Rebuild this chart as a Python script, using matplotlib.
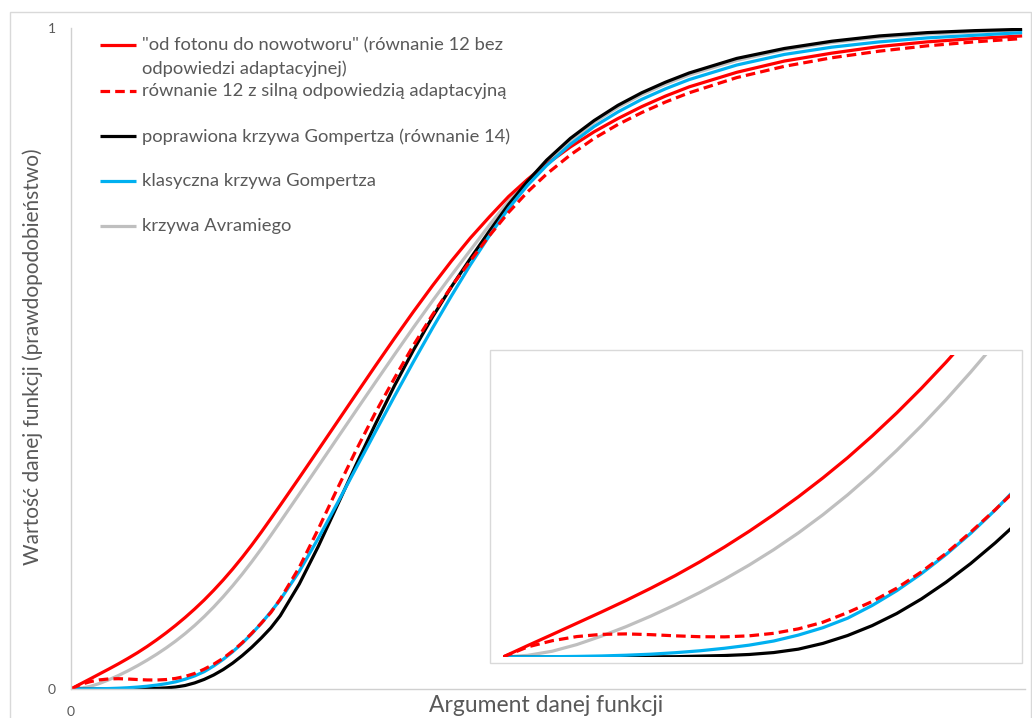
import matplotlib
matplotlib.use("Agg")
import matplotlib.pyplot as plt
from matplotlib.lines import Line2D
from matplotlib.patches import Rectangle

# ---- data ----
x_arg = [0, 1, 2, 3, 4, 5, 6, 7, 8, 9, 10, 11, 12, 13, 14, 15, 16, 17, 18, 19, 20, 21,
         22, 24, 26, 28, 30, 32, 34, 36, 38, 40, 42, 44, 46, 48, 50, 52.5, 55, 57.5, 60, 62.5, 65,
         70, 75, 80, 85, 90, 95, 100]

foton_no_adapt = [0, 0.0077, 0.0152, 0.0228, 0.0304, 0.0382, 0.0464, 0.055, 0.0643, 0.0743, 0.0849,
                  0.0962, 0.1082, 0.121, 0.1346, 0.1493, 0.1649, 0.1815, 0.1991, 0.2177, 0.2372, 0.2575,
                  0.278, 0.3196, 0.3618, 0.4042, 0.4466, 0.4888, 0.5303, 0.5708, 0.610, 0.6475,
                  0.6825, 0.7145, 0.745, 0.771, 0.794, 0.820, 0.843, 0.863, 0.881, 0.897, 0.911,
                  0.933, 0.950, 0.962, 0.972, 0.979, 0.984, 0.988]

foton_adapt = [0, 0.0068, 0.0110, 0.0138, 0.0153, 0.0156, 0.0151, 0.0143, 0.0137, 0.0136, 0.0143,
               0.0160, 0.0190, 0.0235, 0.030, 0.0375, 0.0465, 0.0575, 0.070, 0.0843, 0.0995, 0.1155,
               0.136, 0.184, 0.242, 0.303, 0.362, 0.418, 0.470, 0.520, 0.566, 0.609,
               0.648, 0.686, 0.721, 0.752, 0.779, 0.808, 0.833, 0.854, 0.872, 0.888, 0.902,
               0.925, 0.942, 0.955, 0.965, 0.973, 0.979, 0.984]

gompertz_corr = [0, 0, 0, 0, 0, 0, 0.0001, 0.0002, 0.0006, 0.001, 0.0017,
                 0.003, 0.0053, 0.0092, 0.0145, 0.0212, 0.0294, 0.0392, 0.0505, 0.0631, 0.0771, 0.0923,
                 0.1108, 0.1588, 0.2158, 0.2778, 0.3402, 0.4006, 0.4586, 0.5126, 0.5626, 0.6086,
                 0.6515, 0.693, 0.733, 0.768, 0.800, 0.833, 0.860, 0.883, 0.902, 0.918, 0.932,
                 0.954, 0.969, 0.980, 0.988, 0.993, 0.996, 0.998]

gompertz_classic = [0, 0.0001, 0.0002, 0.0004, 0.0007, 0.0012, 0.0019, 0.0029, 0.0042, 0.0059, 0.0080,
                    0.0108, 0.0148, 0.0198, 0.0262, 0.0348, 0.0448, 0.0563, 0.0692, 0.0835, 0.0993, 0.1165,
                    0.135, 0.178, 0.228, 0.281, 0.335, 0.389, 0.4426, 0.495, 0.5458, 0.5948,
                    0.642, 0.686, 0.727, 0.762, 0.792, 0.824, 0.851, 0.873, 0.892, 0.908, 0.922,
                    0.944, 0.960, 0.971, 0.979, 0.985, 0.989, 0.993]

avrami = [0, 0.0011, 0.0039, 0.0084, 0.0141, 0.0205, 0.0276, 0.0353, 0.0436, 0.0525, 0.0621,
          0.0725, 0.0838, 0.0961, 0.1095, 0.124, 0.1396, 0.1562, 0.1738, 0.1924, 0.2119, 0.2322,
          0.253, 0.2949, 0.3371, 0.3795, 0.4218, 0.4639, 0.5057, 0.5469, 0.587, 0.626,
          0.664, 0.702, 0.738, 0.770, 0.798, 0.829, 0.857, 0.880, 0.899, 0.915, 0.929,
          0.951, 0.967, 0.978, 0.986, 0.991, 0.994, 0.997]

labels = ['"od fotonu do nowotworu" (równanie 12 bez\nodpowiedzi adaptacyjnej)',
          'równanie 12 z silną odpowiedzią adaptacyjną',
          'poprawiona krzywa Gompertza (równanie 14)',
          'klasyczna krzywa Gompertza',
          'krzywa Avramiego']

x_label = 'Argument danej funkcji'
y_label = 'Wartość danej funkcji (prawdopodobieństwo)'

# ---- styling ----
plt.rcParams['font.family'] = ['Lato', 'DejaVu Sans']
W, H = 1032, 718
TXT = '#595959'
AX = '#d0d0d0'

fig = plt.figure(figsize=(W / 100, H / 100), dpi=100)

def fx(px):
    return px / W

def fy(py):
    return 1 - py / H

# outer chart frame
fig.add_artist(Rectangle((fx(10), fy(740)), fx(1031) - fx(10), fy(12) - fy(740),
                         transform=fig.transFigure, fill=False, edgecolor='#d9d9d9', lw=1.0))

series = [
    (foton_no_adapt, '#ff0000', '-'),
    (foton_adapt, '#ff0000', '--'),
    (gompertz_corr, '#000000', '-'),
    (gompertz_classic, '#00b0f0', '-'),
    (avrami, '#bfbfbf', '-'),
]
draw_order = [4, 0, 2, 3, 1]
LW = 2.3
DASH = (3.0, 1.6)

# main axes
ax = fig.add_axes([fx(71), fy(689), fx(1025) - fx(71), fy(28) - fy(689)])
for i in draw_order:
    ys, c, ls = series[i]
    kw = dict(color=c, lw=LW, solid_capstyle='butt', solid_joinstyle='round')
    if ls == '--':
        kw['dashes'] = DASH
    ax.plot(x_arg, ys, **kw)
ax.set_xlim(0, 100.3)
ax.set_ylim(0, 1)
ax.set_xticks([0])
ax.set_yticks([0, 1])
ax.set_xticklabels(['0'])
ax.set_yticklabels(['0', '1'])
ax.tick_params(length=0, labelsize=10, colors=TXT)
ax.tick_params(axis='x', pad=12)
ax.tick_params(axis='y', pad=11)
for s in ['top', 'right']:
    ax.spines[s].set_visible(False)
for s in ['left', 'bottom']:
    ax.spines[s].set_color(AX)
    ax.spines[s].set_linewidth(1.0)
ax.patch.set_alpha(0)

fig.text(fx(546), fy(706), x_label, ha='center', va='center', fontsize=16.5, color=TXT)
fig.text(fx(33), fy(357), y_label, ha='center', va='center', rotation=90, fontsize=15, color=TXT)

# legend (manual)
leg_y = [45, 91, 136, 181, 226]
for (ys, c, ls), lab, py in zip(series, labels, leg_y):
    ln = Line2D([fx(100), fx(136)], [fy(py), fy(py)], transform=fig.transFigure,
                color=c, lw=LW, solid_capstyle='butt')
    if ls == '--':
        ln.set_dashes(DASH)
    fig.add_artist(ln)
    fig.text(fx(142), fy(py - 8), lab, ha='left', va='top', fontsize=13.2, color=TXT,
             linespacing=1.55)

# inset frame + inset axes
fig.add_artist(Rectangle((fx(490), fy(663)), fx(1022) - fx(490), fy(350) - fy(663),
                         transform=fig.transFigure, fill=False, edgecolor='#d9d9d9', lw=1.0))
axi = fig.add_axes([fx(503), fy(657), fx(1010) - fx(503), fy(355) - fy(657)])
for i in draw_order:
    ys, c, ls = series[i]
    kw = dict(color=c, lw=LW, solid_capstyle='butt', solid_joinstyle='round')
    if ls == '--':
        kw['dashes'] = DASH
    axi.plot(x_arg, ys, **kw)
axi.set_xlim(0, 20.6)
axi.set_ylim(0, 0.204)
axi.axis('off')

fig.savefig('out.png', dpi=100)
